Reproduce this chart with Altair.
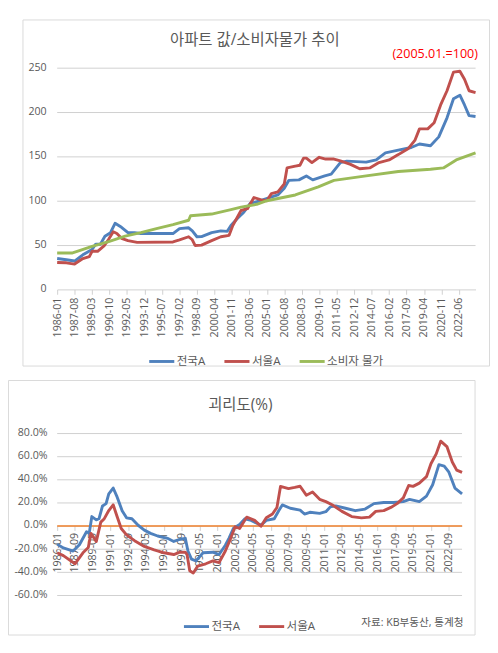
import altair as alt
import pandas as pd

FONT = "Open Sans, Noto Sans CJK KR"
GRAY = "#595959"
GRID = "#cfcfcf"
FRAME = "#d9d9d9"

# ---------------- top panel ----------------
top_title = "아파트 값/소비자물가 추이"
top_note = "(2005.01.=100)"
top_series = ["전국A", "서울A", "소비자 물가"]
top_colors = ["#4F81BD", "#C0504D", "#9BBB59"]
top_y_ticks = [0, 50, 100, 150, 200, 250]
top_y_labels = ["0", "50", "100", "150", "200", "250"]
top_x_ticks = ["1986-01", "1987-08", "1989-03", "1990-10", "1992-05", "1993-12",
               "1995-07", "1997-02", "1998-09", "2000-04", "2001-11", "2003-06",
               "2005-01", "2006-08", "2008-03", "2009-10", "2011-05", "2012-12",
               "2014-07", "2016-02", "2017-09", "2019-04", "2020-11", "2022-06"]

nat_dates = ["1986-01", "1986-11", "1987-08", "1988-05", "1989-03", "1989-07", "1989-12",
             "1990-05", "1990-11", "1991-04", "1991-11", "1992-06", "1993-01", "1993-08",
             "1996-07", "1997-02", "1997-12", "1998-04", "1998-09", "1999-02", "2000-01",
             "2000-11", "2001-06", "2001-10", "2002-05", "2002-12", "2003-07", "2004-06",
             "2005-04", "2006-01", "2006-08", "2007-01", "2007-12", "2008-08", "2009-03",
             "2010-04", "2010-11", "2011-09", "2012-04", "2014-01", "2014-12", "2015-10",
             "2016-12", "2018-02", "2018-11", "2019-11", "2020-08", "2021-05", "2021-12",
             "2022-07", "2022-12", "2023-05", "2023-12"]
nat_values = [34.8, 33.5, 32, 39, 45, 51, 51,
              60, 64, 74.6, 70, 64, 64, 63,
              63, 68.5, 69.5, 66, 59.4, 59.5, 64,
              66, 65.5, 72, 80, 87, 97, 100,
              103.6, 106.5, 114, 123, 123.5, 128, 123.5,
              128, 130, 143, 144.6, 143.5, 146, 154,
              157, 160, 164, 162, 172, 193.5, 215,
              219, 208, 196, 195]

seoul_dates = ["1986-01", "1986-11", "1987-08", "1988-05", "1988-12", "1989-03", "1989-09",
               "1990-04", "1990-09", "1991-02", "1991-06", "1991-11", "1992-06", "1993-04",
               "1996-07", "1997-02", "1997-12", "1998-04", "1998-07", "1999-02", "2000-01",
               "2000-11", "2001-08", "2001-12", "2002-09", "2003-04", "2003-11", "2004-07",
               "2005-01", "2005-06", "2006-01", "2006-08", "2006-11", "2007-08", "2008-01",
               "2008-05", "2008-08", "2009-02", "2009-10", "2010-05", "2011-02", "2011-09",
               "2012-08", "2013-06", "2014-05", "2015-03", "2016-02", "2016-12", "2017-11",
               "2018-06", "2018-11", "2019-08", "2020-03", "2020-10", "2021-05", "2021-12",
               "2022-07", "2022-12", "2023-05", "2023-12"]
seoul_values = [30.4, 30, 28.6, 34.8, 37, 43, 43,
                49, 56.5, 65, 63, 57.6, 55, 53,
                53.5, 55.8, 59.4, 56, 49.6, 50, 55,
                59.4, 61, 72, 89, 91, 103.6, 101,
                100, 108, 110, 119, 137, 139, 140,
                148, 148, 143, 149, 147, 147, 145,
                141, 136, 137, 143, 146, 152, 159,
                168, 181, 181, 188, 208, 224, 245,
                246, 237, 224, 222]

cpi_dates = ["1986-01", "1987-05", "1988-02", "1989-03", "1990-09", "1992-03", "1993-08",
             "1995-01", "1996-07", "1997-12", "1998-02", "2000-01", "2001-10", "2002-09",
             "2004-02", "2005-01", "2007-08", "2009-09", "2011-02", "2014-01", "2016-12",
             "2019-11", "2021-01", "2022-03", "2023-12"]
cpi_values = [41, 41, 44, 48.5, 54, 60, 64,
              68.5, 73, 78, 83, 85, 90, 92.8,
              96, 100, 106.5, 115.6, 123, 128, 133,
              135.5, 137, 146, 154]

# ---------------- bottom panel ----------------
bot_title = "괴리도(%)"
bot_source = "자료: KB부동산, 통계청"
bot_series = ["전국A", "서울A"]
bot_colors = ["#4F81BD", "#C0504D"]
bot_y_ticks = [-60, -40, -20, 20, 40, 60, 80]
bot_y_labels = ["-60.0%", "-40.0%", "-20.0%", "20.0%", "40.0%", "60.0%", "80.0%"]
bot_zero = [0]
bot_zero_label = ["0.0%"]
bot_x_ticks = ["1986-01", "1987-09", "1989-05", "1991-01", "1992-09", "1994-05",
               "1996-01", "1997-09", "1999-05", "2001-01", "2002-09", "2004-05",
               "2006-01", "2007-09", "2009-05", "2011-01", "2012-09", "2014-05",
               "2016-01", "2017-09", "2019-05", "2021-01", "2022-09"]

gap_nat_dates = ["1986-01", "1986-08", "1987-07", "1988-02", "1988-10", "1989-01", "1989-04",
                 "1989-09", "1989-12", "1990-04", "1990-08", "1990-11", "1991-04", "1991-08",
                 "1992-02", "1992-07", "1993-01", "1993-08", "1994-03", "1994-10", "1995-06",
                 "1996-05", "1996-12", "1997-07", "1998-01", "1998-04", "1998-08", "1999-01",
                 "1999-09", "2000-08", "2001-03", "2001-10", "2002-02", "2002-07", "2003-02",
                 "2003-08", "2004-03", "2005-02", "2005-08", "2006-05", "2006-10", "2007-02",
                 "2007-11", "2008-10", "2009-03", "2009-09", "2010-08", "2011-03", "2011-08",
                 "2012-02", "2013-01", "2013-12", "2014-11", "2015-09", "2016-08", "2017-07",
                 "2018-06", "2019-01", "2019-12", "2020-08", "2021-03", "2021-10", "2022-04",
                 "2022-09", "2023-04", "2023-12"]
gap_nat_values = [-16, -19.3, -22, -16.5, -5.3, -6.7, 7.8,
                  5, 5.9, 17, 19, 27.5, 32.5, 25.5,
                  12.9, 6.7, 5.9, 0.3, -3.9, -6.7, -9,
                  -11, -13.7, -11.8, -11, -22, -29, -30.5,
                  -23.5, -23, -25, -17, -11, -2.5, 1,
                  5.9, 4.5, 0.3, 4.5, 5.9, 12.9, 17.9,
                  15, 13.4, 10, 11.5, 10.6, 12, 16.2,
                  17, 15, 12.9, 14.3, 19, 20, 20,
                  20.7, 22.7, 20.7, 25.5, 35.3, 52.7, 51.5,
                  46.5, 32.5, 27.5]

gap_seoul_dates = ["1986-01", "1986-08", "1987-09", "1988-06", "1988-12", "1989-03", "1989-09",
                   "1990-02", "1990-06", "1990-11", "1991-04", "1991-08", "1992-01", "1992-07",
                   "1993-04", "1994-03", "1995-02", "1996-01", "1996-12", "1997-07", "1998-01",
                   "1998-03", "1998-06", "1998-10", "1999-03", "1999-12", "2000-08", "2001-03",
                   "2001-10", "2002-04", "2002-09", "2003-02", "2003-10", "2004-07", "2005-02",
                   "2005-08", "2006-03", "2006-08", "2006-12", "2007-09", "2008-04", "2008-10",
                   "2009-05", "2009-12", "2010-08", "2011-03", "2011-10", "2012-09", "2013-08",
                   "2014-07", "2015-04", "2015-11", "2016-08", "2017-04", "2017-11", "2018-06",
                   "2018-12", "2019-05", "2019-12", "2020-08", "2021-01", "2021-07", "2021-12",
                   "2022-07", "2023-01", "2023-06", "2023-12"]
gap_seoul_values = [-23.5, -26, -33, -23.5, -19, -6.7, -13.7,
                    3, 6, 13, 18, 8.7, -2.5, -8,
                    -13, -18, -21, -23.5, -25, -23, -23,
                    -25, -39, -41, -35, -33, -30.5, -32,
                    -22, -11, -1, -2.5, 7.3, 4.5, -0.6,
                    6.7, 10, 15.7, 33.9, 32, 33, 34,
                    26.3, 29, 22.7, 20.7, 18, 12.3, 7.8,
                    6.7, 7.3, 12.3, 12.9, 15.7, 19, 24,
                    34.7, 33.9, 36.7, 42.3, 53.5, 62, 73,
                    68.3, 55, 48, 46]


def dt(s):
    return alt.DateTime(year=int(s[:4]), month=int(s[5:7]))


def series_df(dates, values, name):
    return pd.DataFrame({"date": pd.to_datetime(dates, format="%Y-%m"),
                         "value": values, "series": name})


def one_row(text=""):
    return pd.DataFrame({"t": [text]})


top_df = pd.concat([series_df(nat_dates, nat_values, top_series[0]),
                    series_df(seoul_dates, seoul_values, top_series[1]),
                    series_df(cpi_dates, cpi_values, top_series[2])])
bot_df = pd.concat([series_df(gap_nat_dates, gap_nat_values, bot_series[0]),
                    series_df(gap_seoul_dates, gap_seoul_values, bot_series[1])])

legend_common = dict(orient="none", direction="horizontal", title=None,
                     symbolType="stroke", symbolSize=676, symbolStrokeWidth=3,
                     labelFontSize=12, labelColor=GRAY, labelFont=FONT,
                     columnPadding=13, labelOffset=1, padding=0)


def y_rules(ticks, scale, color=GRID, width=1.0):
    return alt.Chart(pd.DataFrame({"v": ticks})).mark_rule(
        color=color, strokeWidth=width, yOffset=0.5).encode(
        y=alt.Y("v:Q", scale=scale, axis=None))


def y_texts(ticks, labels, scale, dx):
    return alt.Chart(pd.DataFrame({"v": ticks, "lab": labels})).mark_text(
        align="right", baseline="middle", fontSize=11, color=GRAY, font=FONT).encode(
        y=alt.Y("v:Q", scale=scale, axis=None), x=alt.value(dx), text="lab:N")


# ---- top chart ----
TW, TH = 434, 230
top_yscale = alt.Scale(domain=[0, 250], nice=False, zero=False)
top_lines = alt.Chart(top_df).mark_line(strokeWidth=3, strokeJoin="round").encode(
    x=alt.X("date:T",
            scale=alt.Scale(domain=[dt("1986-01"), dt("2023-12")]),
            axis=alt.Axis(values=[dt(s) for s in top_x_ticks], format="%Y-%m",
                          labelAngle=-90, title=None, grid=False,
                          domainColor=GRID, tickColor=GRID, tickSize=5,
                          labelFontSize=11, labelColor=GRAY, labelPadding=3,
                          labelOverlap=False, labelFlush=False, labelBound=False)),
    y=alt.Y("value:Q", scale=top_yscale, axis=None),
    color=alt.Color("series:N", sort=top_series,
                    scale=alt.Scale(domain=top_series, range=top_colors),
                    legend=alt.Legend(legendX=94, legendY=290, **legend_common)),
)
top_frame = alt.Chart(one_row()).mark_rect(filled=False, color=FRAME,
                                            strokeWidth=1).encode(
    x=alt.value(-35.5), x2=alt.value(448.5), y=alt.value(-49.5), y2=alt.value(309.5))
top_title_mark = alt.Chart(one_row(top_title)).mark_text(
    fontSize=16, color=GRAY, align="center", baseline="middle", font=FONT).encode(
    text="t:N", x=alt.value(205), y=alt.value(-28.5))
top_note_mark = alt.Chart(one_row(top_note)).mark_text(
    fontSize=13, color="#FF0000", align="right", baseline="middle", font=FONT).encode(
    text="t:N", x=alt.value(436.5), y=alt.value(-14.5))

top = alt.layer(y_rules(top_y_ticks[1:], top_yscale),
                y_texts(top_y_ticks, top_y_labels, top_yscale, -11),
                top_lines, top_frame, top_title_mark, top_note_mark).properties(
    width=TW, height=TH)

# ---- bottom chart ----
BW, BH = 420, 168
bot_yscale = alt.Scale(domain=[-60, 80], nice=False, zero=False)
zero_offset = -BH * 60 / 140
bot_lines = alt.Chart(bot_df).mark_line(strokeWidth=3, strokeJoin="round").encode(
    x=alt.X("date:T",
            scale=alt.Scale(domain=[dt("1986-01"), dt("2023-12")]),
            axis=alt.Axis(values=[dt(s) for s in bot_x_ticks], format="%Y-%m",
                          labelAngle=-90, title=None, grid=False, offset=zero_offset,
                          domainColor=GRID, tickColor=GRID, tickSize=5,
                          labelFontSize=11, labelColor=GRAY, labelPadding=2,
                          labelOverlap=False, labelFlush=False, labelBound=False)),
    y=alt.Y("value:Q", scale=bot_yscale, axis=None),
    color=alt.Color("series:N", sort=bot_series,
                    scale=alt.Scale(domain=bot_series, range=bot_colors),
                    legend=alt.Legend(legendX=130, legendY=186, **legend_common)),
)
bot_frame = alt.Chart(one_row()).mark_rect(filled=False, color=FRAME,
                                            strokeWidth=1).encode(
    x=alt.value(-50.5), x2=alt.value(433.5), y=alt.value(-54.5), y2=alt.value(209.5))
bot_title_mark = alt.Chart(one_row(bot_title)).mark_text(
    fontSize=16, color=GRAY, align="center", baseline="middle", font=FONT).encode(
    text="t:N", x=alt.value(190), y=alt.value(-28.8))
bot_source_mark = alt.Chart(one_row(bot_source)).mark_text(
    fontSize=11, color=GRAY, align="right", baseline="middle", font=FONT).encode(
    text="t:N", x=alt.value(421.5), y=alt.value(197))

bottom = alt.layer(y_rules(bot_y_ticks, bot_yscale),
                   y_texts(bot_y_ticks + bot_zero, bot_y_labels + bot_zero_label,
                           bot_yscale, -10),
                   y_rules(bot_zero, bot_yscale, color="#F0822E", width=1.5),
                   bot_lines, bot_frame, bot_title_mark,
                   bot_source_mark).properties(width=BW, height=BH)

chart = alt.vconcat(top, bottom, spacing=13).resolve_scale(
    color="independent", x="independent", y="independent").properties(
    padding=0, background="white").configure(font=FONT).configure_view(stroke=None)

chart.save("out.html", embed_options={"renderer": "svg", "actions": False})
